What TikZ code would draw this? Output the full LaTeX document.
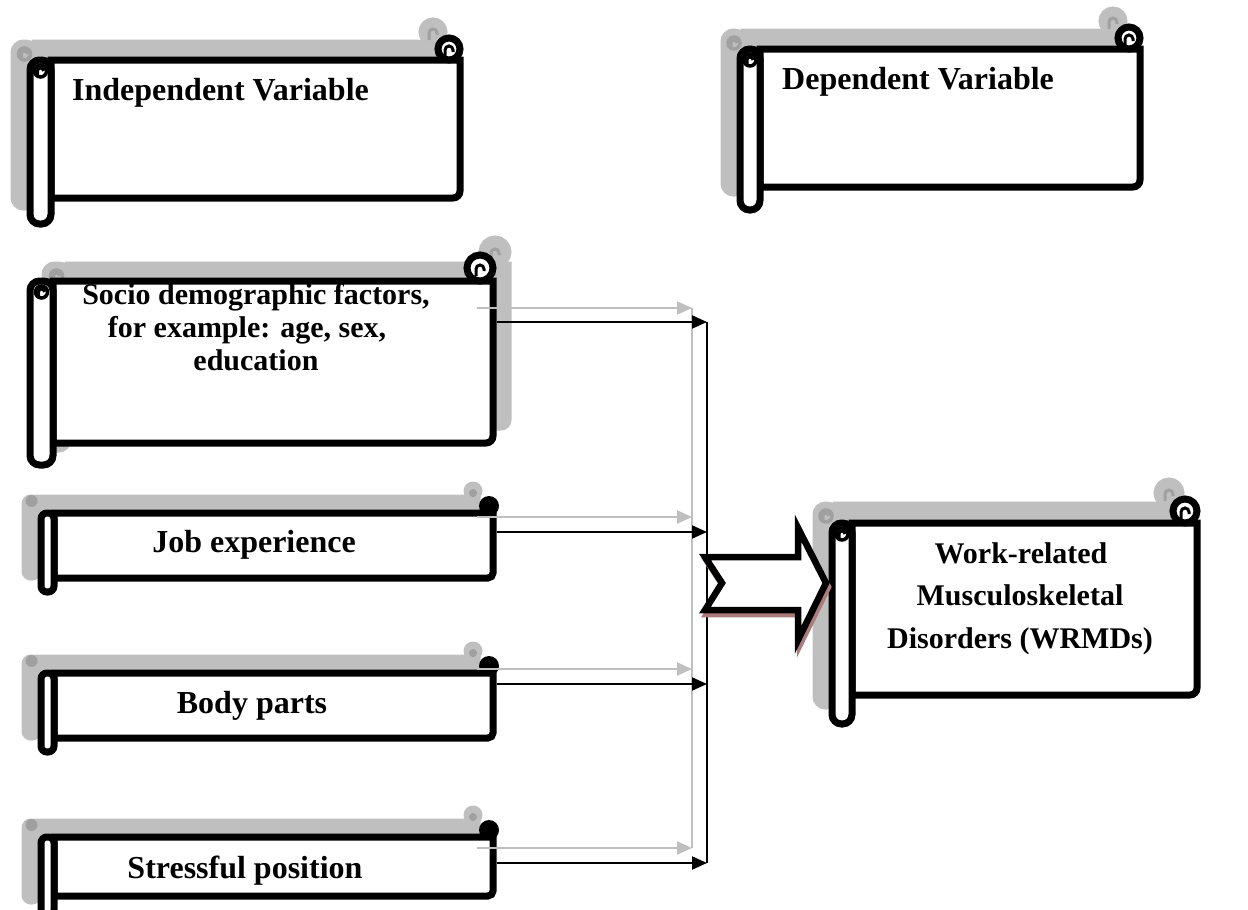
\documentclass[tikz,border=0pt]{standalone}
\usepackage{fontspec}
\setmainfont{Liberation Serif}
\usetikzlibrary{arrows.meta}
\definecolor{shadowgray}{RGB}{191,191,191}
\definecolor{darkshadow}{RGB}{160,160,160}
\definecolor{arrowshadow}{RGB}{172,124,124}
\definecolor{linegray}{RGB}{191,191,191}

% #1 tube left, #2 body left, #3 top, #4 right, #5 bottom, #6 tube bottom, #7 roll radius, #8 style
\newcommand{\bigscroll}[8]{%
  \path[#8] (#2,#3) -- (#4,#3) -- ({#4},{#5-7}) arc[start angle=0,end angle=90,radius=7] -- (#2,#5) -- cycle;
  \path[#8, rounded corners=9.5pt] (#1,#3) rectangle (#2,#6);
  \path[#8] ({#4-#7},{#3-#7}) circle[radius=#7];
}
% #1,#2 tube curl centre, #3,#4 roll centre, #5 line colour, #6 fill colour
\newcommand{\scrollcurls}[6]{%
  \draw[#5, line width=3.5pt, fill=#6] (#1,#2) circle[radius=6];
  \draw[#5, line width=3pt] ({#1-3},{#2+6}) -- ({#1-3},{#2}) arc[start angle=180,end angle=360,radius=3];
  \draw[#5, line width=3pt] ({#3-4},{#4+8}) -- ({#3-4},{#4+1}) arc[start angle=180,end angle=360,radius=4] -- ({#3+4},{#4+3});
}
% #1 tube left, #2 body left, #3 top, #4 right, #5 bottom, #6 tube bottom, #7 style
\newcommand{\smallscroll}[7]{%
  \path[#7] (#2,#3) -- (#4,#3) -- ({#4},{#5-5}) arc[start angle=0,end angle=90,radius=5] -- (#2,#5) -- cycle;
  \path[#7, rounded corners=6pt] (#1,#3) rectangle (#2,#6);
}

\begin{document}
\begin{tikzpicture}[x=1pt,y=-1pt,
  shadowpart/.style={fill=shadowgray, draw=shadowgray, line width=7pt},
  mainpart/.style={fill=white, draw=black, line width=7pt},
  hdr/.style={font=\bfseries\fontsize{32}{36}\selectfont, inner sep=0pt, anchor=base west},
  lbl/.style={font=\bfseries\fontsize{32}{36}\selectfont, inner sep=0pt, anchor=base},
  lblsm/.style={font=\bfseries\fontsize{30}{33}\selectfont, inner sep=0pt, anchor=base},
  grayconn/.style={draw=linegray, line width=2pt, -{Triangle[length=15pt,width=13pt]}, linegray},
  blackconn/.style={draw=black, line width=2pt, -{Triangle[length=15pt,width=13pt]}},
  grayline/.style={draw=linegray, line width=2pt},
  blackline/.style={draw=black, line width=2pt},
  notched/.style={line width=6.5pt, miter limit=10}]
\useasboundingbox[fill=white] (0,0) rectangle (1248,910);

% ---------- Independent Variable ----------
\begin{scope}[shift={(-16,-17)}]
  \bigscroll{30}{51}{60}{460}{198}{224}{11}{shadowpart}
  \scrollcurls{40.5}{71}{449}{49}{darkshadow}{shadowgray}
\end{scope}
\bigscroll{30}{51}{60}{460}{198}{224}{11}{mainpart}
\scrollcurls{40.5}{71}{449}{49}{black}{white}
\node[hdr] (indep) at (72,100) {Independent Variable};

% ---------- Dependent Variable ----------
\begin{scope}[shift={(-16,-17)}]
  \bigscroll{740}{760}{49}{1140}{187}{210}{11}{shadowpart}
  \scrollcurls{750}{60}{1129}{38}{darkshadow}{shadowgray}
\end{scope}
\bigscroll{740}{760}{49}{1140}{187}{210}{11}{mainpart}
\scrollcurls{750}{60}{1129}{38}{black}{white}
\node[hdr] (dep) at (782,89) {Dependent Variable};

% ---------- Socio demographic ----------
\begin{scope}[shift={(15,-16)}]
  \bigscroll{30}{53}{281}{493}{443}{465}{13}{shadowpart}
  \scrollcurls{41.5}{292}{480}{268}{darkshadow}{shadowgray}
\end{scope}
\bigscroll{30}{53}{281}{493}{443}{465}{13}{mainpart}
\scrollcurls{41.5}{292}{480}{268}{black}{white}
\node[lblsm] (socioA) at (256,304) {Socio demographic factors,};
\node[lblsm] (socioB) at (247,337) {for example: age, sex,};
\node[lblsm] (socioC) at (256,370) {education};

% ---------- Job experience ----------
\begin{scope}[shift={(-16,-15)}]
  \smallscroll{41}{54}{513}{493}{578}{592}{shadowpart}
  \fill[shadowgray] (489,506) circle[radius=9.5];
  \fill[darkshadow] (489,508) circle[radius=4];
  \fill[darkshadow] (47.5,516) circle[radius=6];
\end{scope}
\smallscroll{41}{54}{513}{493}{578}{592}{mainpart}
\fill[black] (489,506) circle[radius=10];
\node[lbl] (job) at (254,552) {Job experience};

% ---------- Body parts ----------
\begin{scope}[shift={(-16,-15)}]
  \smallscroll{41}{54}{673}{493}{738}{752}{shadowpart}
  \fill[shadowgray] (489,666) circle[radius=9.5];
  \fill[darkshadow] (489,668) circle[radius=4];
  \fill[darkshadow] (47.5,676) circle[radius=6];
\end{scope}
\smallscroll{41}{54}{673}{493}{738}{752}{mainpart}
\fill[black] (489,666) circle[radius=10];
\node[lbl] (body) at (252,713) {Body parts};

% ---------- Stressful position ----------
\begin{scope}[shift={(-16,-15)}]
  \smallscroll{41}{54}{837}{493}{896}{916}{shadowpart}
  \fill[shadowgray] (489,830) circle[radius=9.5];
  \fill[darkshadow] (489,832) circle[radius=4];
  \fill[darkshadow] (47.5,840) circle[radius=6];
\end{scope}
\smallscroll{41}{54}{837}{493}{896}{916}{mainpart}
\fill[black] (489,830) circle[radius=10];
\node[lbl] (stress) at (245,878) {Stressful position};

% ---------- WRMDs ----------
\begin{scope}[shift={(-16,-18)}]
  \bigscroll{832}{852}{523}{1197}{695}{724}{12}{shadowpart}
  \scrollcurls{842}{534}{1185}{511}{darkshadow}{shadowgray}
\end{scope}
\bigscroll{832}{852}{523}{1197}{695}{724}{12}{mainpart}
\scrollcurls{842}{534}{1185}{511}{black}{white}
\node[lblsm] (wrmdA) at (1021,563) {Work-related};
\node[lblsm] (wrmdB) at (1020,605) {Musculoskeletal};
\node[lblsm] (wrmdC) at (1020,648) {Disorders (WRMDs)};

% ---------- connectors ----------
\coordinate (sdg) at (477,308);  \coordinate (sdgT) at (692,308);
\coordinate (jg)  at (477,517);  \coordinate (jgT)  at (692,517);
\coordinate (bg)  at (477,669);  \coordinate (bgT)  at (692,669);
\coordinate (sg)  at (477,848);  \coordinate (sgT)  at (692,848);
\coordinate (sdb) at (497,322);  \coordinate (sdbT) at (707,322);
\coordinate (jb)  at (497,532);  \coordinate (jbT)  at (707,532);
\coordinate (bb)  at (497,684);  \coordinate (bbT)  at (707,684);
\coordinate (sb)  at (497,863);  \coordinate (sbT)  at (707,863);

\draw[grayline] (sdgT) -- (sgT);
\draw[blackline] (sdbT) -- (sbT);
\draw[grayconn] (sdg) -- (sdgT);
\draw[grayconn] (jg) -- (jgT);
\draw[grayconn] (bg) -- (bgT);
\draw[grayconn] (sg) -- (sgT);
\draw[blackconn] (sdb) -- (sdbT);
\draw[blackconn] (jb) -- (jbT);
\draw[blackconn] (bb) -- (bbT);
\draw[blackconn] (sb) -- (sbT);

% ---------- notched arrow ----------
\begin{scope}[shift={(2,4)}]
  \draw[notched, draw=arrowshadow, fill=arrowshadow] (705,557) -- (798,557) -- (798,528) -- (826,583) -- (798,640) -- (798,610) -- (705,610) -- (722,583) -- cycle;
\end{scope}
\draw[notched, draw=black, fill=white] (705,557) -- (798,557) -- (798,528) -- (826,583) -- (798,640) -- (798,610) -- (705,610) -- (722,583) -- cycle;
\end{tikzpicture}
\end{document}
